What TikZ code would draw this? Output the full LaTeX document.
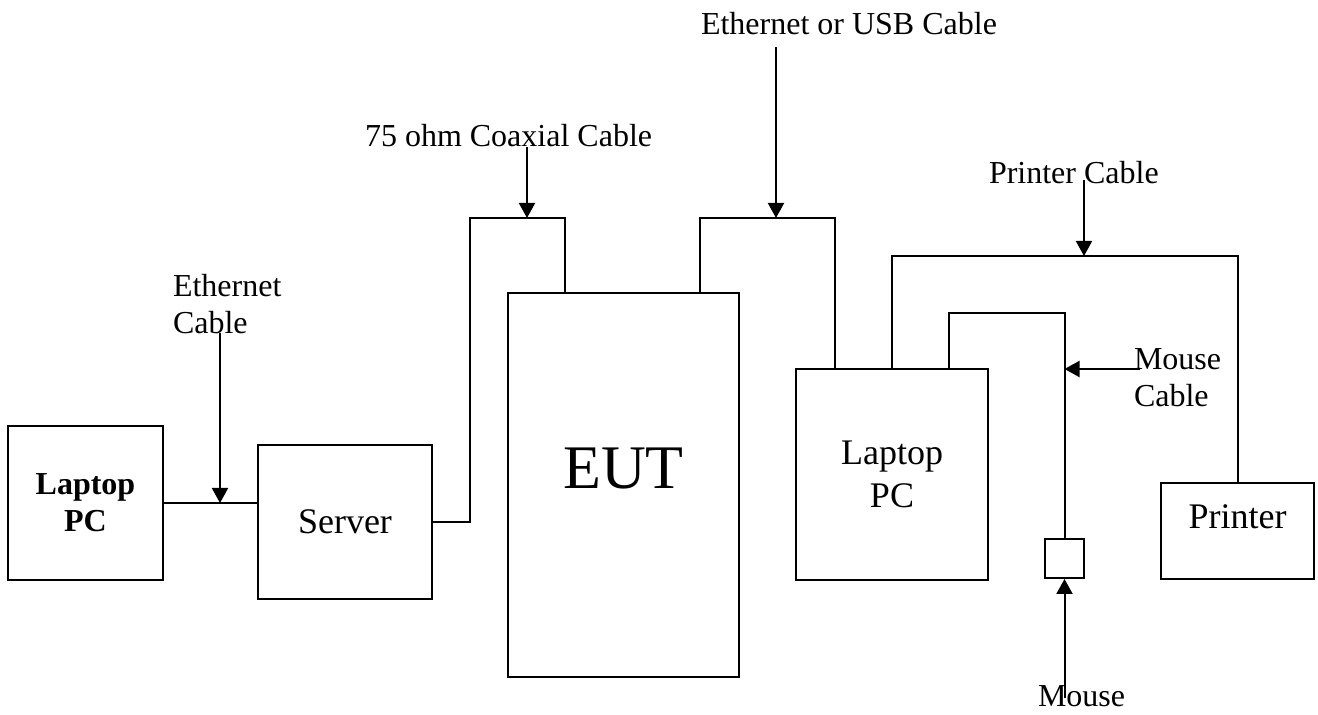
\documentclass[tikz,border=0pt]{standalone}
\usepackage{fontspec}
\setmainfont{Liberation Serif}
\usetikzlibrary{arrows.meta}

\begin{document}
\begin{tikzpicture}[x=0.5pt, y=-0.5pt, >={Triangle[length=7.5pt,width=8pt]}, line width=1pt,
    box/.style={draw, inner sep=0pt, align=center, font=\fontsize{18pt}{21.5pt}\selectfont},
    lbl/.style={inner sep=0pt, anchor=base west, align=left, font=\fontsize{16pt}{18.5pt}\selectfont}]
  \useasboundingbox (0,0) rectangle (1318,715);
  % equipment
  \node[box, minimum width=77.5pt, minimum height=77pt, font=\fontsize{16pt}{18.5pt}\selectfont\bfseries] (Lap1) at (85.5,503) {Laptop\\PC};
  \node[box, minimum width=87pt, minimum height=77pt] (Server) at (345,522) {Server};
  \node[box, minimum width=115.5pt, minimum height=192pt, font=\fontsize{31pt}{37pt}\selectfont, text height=21pt, text depth=17pt] (Eut) at (623.5,485) {EUT};
  \node[box, minimum width=96pt, minimum height=105.5pt] (Lap2) at (892,474.5) {Laptop\\PC};
  \node[box, minimum width=76.5pt, minimum height=48pt, text height=12.5pt, text depth=14.5pt] (Printer) at (1237.5,531) {Printer};
  \node[box, minimum width=19.5pt, minimum height=19.5pt] (Mouse) at (1064.5,558.5) {};
  % cables
  \coordinate (coaxL) at (470,218);
  \coordinate (coaxR) at (565,218);
  \coordinate (usbL) at (700,218);
  \coordinate (usbR) at (835,218);
  \coordinate (prnR) at (1237.5,256);
  \coordinate (mseL) at (949,313);
  \coordinate (mseR) at (1064.5,313);
  \draw (Lap1.east) -- (Lap1.east -| Server.west);
  \draw (Server.east) -| (coaxL) -- (coaxR) -- (coaxR |- Eut.north);
  \draw (usbL |- Eut.north) -- (usbL) -- (usbR) -- (usbR |- Lap2.north);
  \draw (Lap2.north) |- (prnR) -- (Printer.north);
  \draw (mseL |- Lap2.north) |- (mseR) -- (Mouse.north);
  % labels
  \node[lbl] (ethLbl) at (172,334) {Ethernet\\Cable};
  \node[lbl] (coaxLbl) at (364,147) {75 ohm Coaxial Cable};
  \node[lbl] (usbLbl) at (700,35) {Ethernet or USB Cable};
  \node[lbl] (prnLbl) at (988,184) {Printer Cable};
  \node[lbl] (mseLbl) at (1133,407) {Mouse\\Cable};
  \node[lbl] (mouseLbl) at (1037,707) {Mouse};
  \coordinate (ethA) at (220,333);
  \coordinate (coaxA) at (527,147);
  \coordinate (usbA) at (776,47);
  \coordinate (prnA) at (1084,180);
  \coordinate (mseA) at (1140,369);
  \coordinate (mouseA) at (1064.5,698);
  \draw[->] (ethA) -- (ethA |- Lap1.east);
  \draw[->] (coaxA) -- (coaxA |- coaxL);
  \draw[->] (usbA) -- (usbA |- usbL);
  \draw[->] (prnA) -- (prnA |- prnR);
  \draw[->] (mseA) -- (mseA -| Mouse.north);
  \draw[->] (mouseA) -- (Mouse.south);
\end{tikzpicture}
\end{document}
